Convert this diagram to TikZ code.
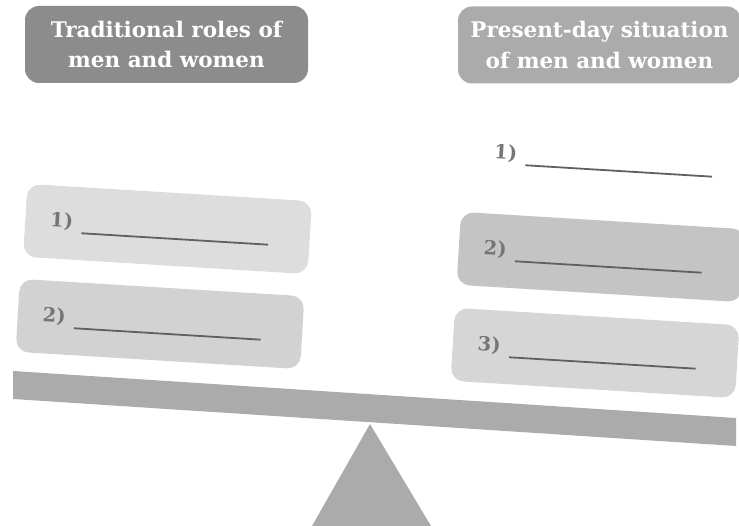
\documentclass[tikz,border=0pt]{standalone}
\usepackage{fontspec}
\setmainfont{DejaVu Serif}
\definecolor{hdrA}{HTML}{8C8C8C}
\definecolor{hdrB}{HTML}{ABABAB}
\definecolor{boxA}{HTML}{DDDDDD}
\definecolor{boxB}{HTML}{D2D2D2}
\definecolor{boxC}{HTML}{C4C4C4}
\definecolor{boxD}{HTML}{D6D6D6}
\definecolor{beamc}{HTML}{ABABAB}
\definecolor{numc}{HTML}{767676}
\definecolor{linec}{HTML}{606060}
\newcommand{\blankline}{{\color{linec}\rule[-6pt]{187pt}{1.8pt}}}
\begin{document}
\begin{tikzpicture}[x=1pt,y=-1pt,
  hdr/.style={rounded corners=14pt, minimum height=77pt, text=white,
    font=\fontsize{21.5}{30.5}\selectfont\bfseries, align=center, inner sep=0pt},
  ans/.style={rounded corners=13pt, minimum height=73pt, inner ysep=0pt, inner xsep=25pt,
    text width=235pt, align=left, rotate=-3.5,
    font=\fontsize{19.5}{22}\selectfont\bfseries, text=numc}]
\useasboundingbox (0,0) rectangle (739,526);
% headers
\node[hdr, fill=hdrA, minimum width=283pt] (h1) at (166.5,44.5) {Traditional roles of\\men and women};
\node[hdr, fill=hdrB, minimum width=283pt] (h2) at (599.5,45) {Present-day situation\\of men and women};
% left answers
\node[ans, fill=boxA, minimum width=285pt] (l1) at (167.5,229) {1)\hspace{9pt}\blankline};
\node[ans, fill=boxB, minimum width=282pt] (l2) at (160,324) {2)\hspace{9pt}\blankline};
% right answers
\node[ans, minimum width=285pt] (r1) at (611.5,161) {1)\hspace{9pt}\blankline};
\node[ans, fill=boxC, minimum width=282pt] (r2) at (601,257) {2)\hspace{9pt}\blankline};
\node[ans, fill=boxD, minimum width=282pt] (r3) at (595,353) {3)\hspace{9pt}\blankline};
% beam and fulcrum
\fill[beamc] (13,371) -- (736,418) -- (736,446) -- (13,399) -- cycle;
\fill[beamc] (370,424) -- (431,526) -- (312,526) -- cycle;
\end{tikzpicture}
\end{document}
